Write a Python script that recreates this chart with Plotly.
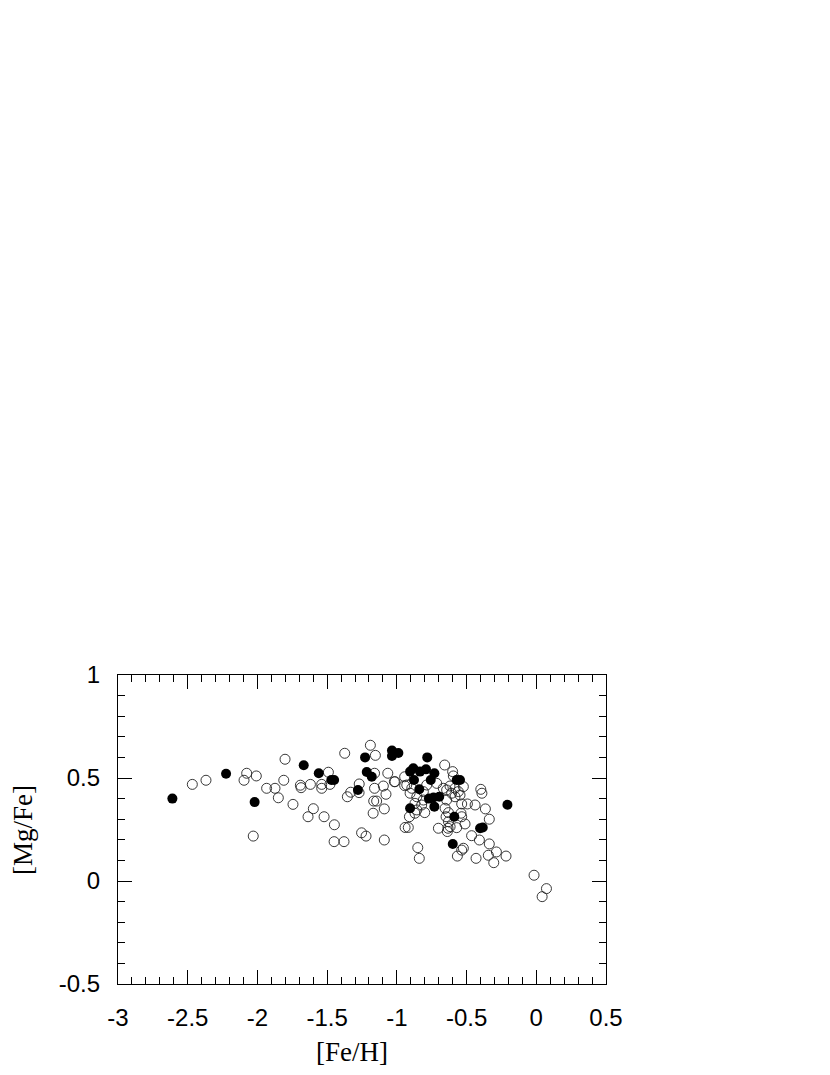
import plotly.graph_objects as go

# [Fe/H], [Mg/Fe]
feh_filled = [-2.61, -2.225, -2.02, -1.668, -1.56, -1.47, -1.45, -1.279, -1.228, -1.216,
              -1.18, -1.035, -1.035, -0.989, -0.905, -0.882, -0.834, -0.791, -0.731, -0.782,
              -0.877, -0.757, -0.571, -0.547, -0.839, -0.77, -0.737, -0.696, -0.731, -0.905,
              -0.588, -0.403, -0.384, -0.599, -0.207]
mgfe_filled = [0.40, 0.521, 0.383, 0.562, 0.523, 0.49, 0.49, 0.442, 0.60, 0.529,
               0.506, 0.633, 0.607, 0.621, 0.531, 0.547, 0.531, 0.542, 0.523, 0.60,
               0.49, 0.49, 0.49, 0.49, 0.445, 0.40, 0.405, 0.409, 0.361, 0.353,
               0.312, 0.256, 0.26, 0.18, 0.37]

feh_open = [-2.467, -2.369, -2.077, -2.096, -2.008, -1.934, -1.874, -1.85, -2.03, -1.802,
            -1.811, -1.745, -1.692, -1.687, -1.62, -1.599, -1.637, -1.491, -1.539, -1.539,
            -1.48, -1.522, -1.448, -1.374, -1.331, -1.355, -1.27, -1.271, -1.19, -1.154,
            -1.16, -1.16, -1.097, -1.078, -1.166, -1.145, -1.09, -1.17, -1.065, -1.018,
            -0.944, -0.944, -1.45, -1.379, -1.253, -1.221, -1.09,
            -0.657, -0.6, -0.595, -0.398, -0.39, -0.535, -0.494, -0.439, -0.365,
            -0.337, -0.464, -0.408, -0.337, -0.286, -0.344, -0.305, -0.217, -0.432, -0.566,
            -0.535, -0.523, -0.016, 0.073, 0.042,
            -0.702, -0.633, -0.618, -0.638, -0.571, -0.511, -0.54, -0.535, -0.654, -0.63,
            -0.85, -0.839, -0.941, -0.918, -0.91, -0.80, -0.87, -0.857, -0.822,
            -1.013, -0.929, -0.893, -0.905, -0.857, -0.81, -0.786, -0.714, -0.667, -0.643,
            -0.619, -0.583, -0.559, -0.547, -0.583, -0.607, -0.81, -0.87, -0.643, -0.523,
            -0.647, -0.63]
mgfe_open = [0.469, 0.489, 0.523, 0.489, 0.510, 0.450, 0.450, 0.404, 0.218, 0.591,
             0.489, 0.372, 0.465, 0.453, 0.469, 0.351, 0.312, 0.528, 0.469, 0.45,
             0.469, 0.312, 0.273, 0.62, 0.431, 0.409, 0.471, 0.429, 0.659, 0.61,
             0.523, 0.45, 0.461, 0.421, 0.388, 0.388, 0.35, 0.329, 0.523, 0.482,
             0.506, 0.463, 0.191, 0.191, 0.234, 0.218, 0.199,
             0.563, 0.531, 0.51, 0.445, 0.426, 0.374, 0.374, 0.369, 0.35,
             0.30, 0.22, 0.199, 0.18, 0.141, 0.125, 0.089, 0.121, 0.11, 0.121,
             0.15, 0.159, 0.028, -0.037, -0.076,
             0.256, 0.256, 0.264, 0.24, 0.259, 0.277, 0.329, 0.312, 0.353, 0.332,
             0.162, 0.11, 0.26, 0.26, 0.312, 0.332, 0.329, 0.345, 0.369,
             0.482, 0.466, 0.45, 0.426, 0.409, 0.434, 0.466, 0.474, 0.45, 0.442,
             0.461, 0.45, 0.434, 0.417, 0.409, 0.426, 0.393, 0.377, 0.393, 0.458,
             0.312, 0.288]

x_ticks = [-3, -2.5, -2, -1.5, -1, -0.5, 0, 0.5]
x_ticktext = ['-3', '-2.5', '-2', '-1.5', '-1', '-0.5', '0', '0.5']
y_ticks = [-0.5, 0, 0.5, 1]
y_ticktext = ['-0.5', '0', '0.5', '1']

# page body adds an 8px offset, so the figure is drawn 8px smaller/shifted
OFF = 8
W, H = 830 - OFF, 1075 - OFF
L, R, T, B = 118 - OFF, 606 - OFF, 675 - OFF, 984 - OFF

fig = go.Figure()
fig.add_trace(go.Scatter(
    x=feh_open, y=mgfe_open, mode='markers',
    marker=dict(symbol='circle-open', size=10, color='#222', line=dict(width=0.9)),
))
fig.add_trace(go.Scatter(
    x=feh_filled, y=mgfe_filled, mode='markers',
    marker=dict(symbol='circle', size=10, color='black'),
))

axis_common = dict(
    showgrid=False, zeroline=False, showline=True, linecolor='black', linewidth=1.2,
    ticks='inside', ticklen=14, tickwidth=1, tickcolor='black', mirror='ticks',
    tickfont=dict(family='Liberation Sans, Arial', size=24, color='black'),
)
fig.update_xaxes(
    range=[-3, 0.5], tickvals=x_ticks, ticktext=x_ticktext, ticklabelstandoff=12,
    minor=dict(dtick=0.1, ticklen=7, ticks='inside', tickcolor='black', tickwidth=1),
    **axis_common,
)
fig.update_yaxes(
    range=[-0.5, 1], tickvals=y_ticks, ticktext=y_ticktext, ticklabelstandoff=12,
    minor=dict(dtick=0.1, ticklen=7, ticks='inside', tickcolor='black', tickwidth=1),
    **axis_common,
)

title_font = dict(family='Liberation Serif, Times New Roman', size=27, color='black')
fig.add_annotation(text='[Fe/H]', xref='paper', yref='paper',
                   x=(352 - 118) / 488, y=(984 - 1052) / 309,
                   showarrow=False, font=title_font, xanchor='center', yanchor='middle')
fig.add_annotation(text='[Mg/Fe]', xref='paper', yref='paper',
                   x=(23 - 118) / 488, y=(984 - 830) / 309, textangle=-90,
                   showarrow=False, font=title_font, xanchor='center', yanchor='middle')

fig.update_layout(
    width=W, height=H, showlegend=False,
    plot_bgcolor='white', paper_bgcolor='white',
    margin=dict(l=L, r=W - R, t=T, b=H - B),
)

fig.write_html("out.html")
